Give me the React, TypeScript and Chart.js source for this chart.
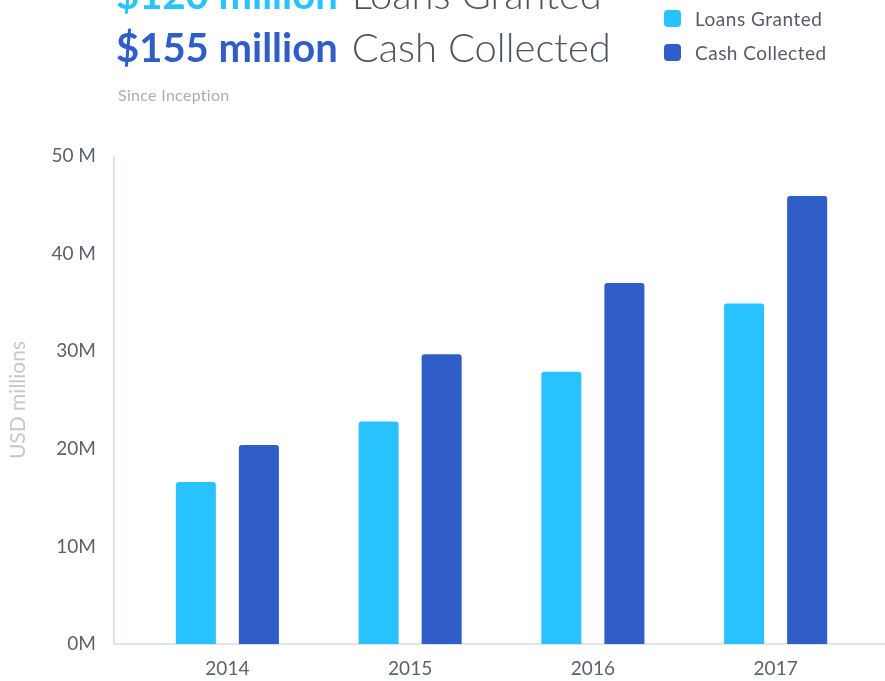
import React, { useEffect, useRef } from "react";
import { Chart, registerables } from "chart.js";

Chart.register(...registerables);

const categories = ["2014", "2015", "2016", "2017"];
const loansGranted = [16.6, 22.8, 27.9, 34.9];
const cashCollected = [20.4, 29.7, 37.0, 45.9];
const yTicks = [0, 10, 20, 30, 40, 50];
const yTickLabels = ["0M", "10M", "20M", "30M", "40 M", "50 M"];

const LIGHT = "#28C3FE";
const DARK = "#305EC9";
const FONT = "Lato, 'Open Sans', sans-serif";

const axisLines = {
  id: "axisLines",
  beforeDatasetsDraw(chart: any) {
    const { ctx, chartArea } = chart;
    const x0 = chartArea.left - 22;
    ctx.save();
    ctx.strokeStyle = "#dfe4ea";
    ctx.lineWidth = 2;
    ctx.beginPath();
    ctx.moveTo(x0, chartArea.top);
    ctx.lineTo(x0, chartArea.bottom);
    ctx.lineTo(chart.width, chartArea.bottom);
    ctx.stroke();
    ctx.restore();
  },
};

export default function App() {
  const ref = useRef<HTMLCanvasElement | null>(null);
  useEffect(() => {
    if (!ref.current) return;
    const chart = new Chart(ref.current, {
      type: "bar",
      data: {
        labels: categories,
        datasets: [
          {
            label: "Loans Granted",
            data: loansGranted,
            backgroundColor: LIGHT,
            borderRadius: 3,
            categoryPercentage: 0.69,
            barPercentage: 0.635,
          },
          {
            label: "Cash Collected",
            data: cashCollected,
            backgroundColor: DARK,
            borderRadius: 3,
            categoryPercentage: 0.69,
            barPercentage: 0.635,
          },
        ],
      },
      options: {
        animation: false,
        responsive: false,
        maintainAspectRatio: false,
        layout: { padding: { top: 156, right: 18, left: 0, bottom: 0 } },
        plugins: { legend: { display: false }, tooltip: { enabled: false } },
        scales: {
          x: {
            grid: { display: false, drawTicks: false, tickLength: 0 },
            border: { display: false },
            ticks: {
              padding: 13,
              color: "#5a626b",
              font: { family: FONT, size: 19 },
            },
            afterFit: (s: any) => {
              s.height = 37;
            },
          },
          y: {
            min: 0,
            max: 50,
            grid: { display: false, drawTicks: true, tickLength: 40 },
            border: { display: false },
            afterBuildTicks: (s: any) => {
              s.ticks = yTicks.map((v) => ({ value: v }));
            },
            ticks: {
              padding: 0,
              color: "#5a626b",
              font: { family: FONT, size: 19 },
              callback: (v: any) => yTickLabels[yTicks.indexOf(Number(v))],
            },
            title: {
              display: true,
              text: "USD millions",
              color: "#c4c8cc",
              font: { family: FONT, size: 21 },
              padding: { top: 6, bottom: 0 },
            },
            afterFit: (s: any) => {
              s.width = 136;
            },
          },
        },
      },
      plugins: [axisLines],
    });
    return () => chart.destroy();
  }, []);

  return (
    <div
      style={{
        position: "fixed",
        left: 0,
        top: 0,
        width: 885,
        height: 681,
        overflow: "hidden",
        background: "#fff",
        fontFamily: FONT,
      }}
    >
      <canvas
        ref={ref}
        width={885}
        height={681}
        style={{ position: "absolute", left: 0, top: 0, width: 885, height: 681 }}
      />
      <div
        style={{
          position: "absolute",
          left: 116,
          top: -26,
          fontSize: 40,
          lineHeight: "40px",
          whiteSpace: "nowrap",
        }}
      >
        <span style={{ color: LIGHT, fontWeight: 700 }}>$120 million</span>
        <span style={{ color: "#4b5560", fontWeight: 300, marginLeft: 3 }}> Loans Granted</span>
      </div>
      <div
        style={{
          position: "absolute",
          left: 116,
          top: 27,
          fontSize: 40,
          lineHeight: "40px",
          whiteSpace: "nowrap",
        }}
      >
        <span style={{ color: DARK, fontWeight: 700 }}>$155 million</span>
        <span style={{ color: "#4b5560", fontWeight: 300, marginLeft: 3 }}> Cash Collected</span>
      </div>
      <div
        style={{
          position: "absolute",
          left: 118,
          top: 87,
          fontSize: 16,
          lineHeight: "16px",
          letterSpacing: 0.3,
          color: "#a9adb2",
          whiteSpace: "nowrap",
        }}
      >
        Since Inception
      </div>
      {[
        { label: "Loans Granted", color: LIGHT, top: 9 },
        { label: "Cash Collected", color: DARK, top: 43 },
      ].map((it) => (
        <div
          key={it.label}
          style={{
            position: "absolute",
            left: 664,
            top: it.top,
            height: 19,
            display: "flex",
            alignItems: "center",
            whiteSpace: "nowrap",
          }}
        >
          <div
            style={{
              width: 17,
              height: 17,
              borderRadius: 4,
              background: it.color,
              marginRight: 14,
            }}
          />
          <span
            style={{ fontSize: 19, letterSpacing: 0.5, color: "#555c66", lineHeight: "19px" }}
          >
            {it.label}
          </span>
        </div>
      ))}
    </div>
  );
}
